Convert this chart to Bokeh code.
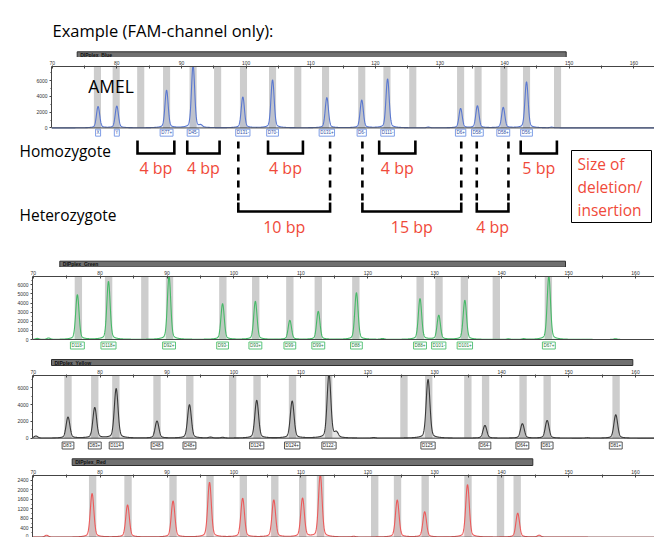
import numpy as np
from bokeh.plotting import figure
from bokeh.layouts import column
from bokeh.models import Range1d, FixedTicker, Span
from bokeh.core.properties import value
from bokeh.embed import file_html
from bokeh.resources import INLINE

# ---------------- data ----------------
bp_major = [70, 80, 90, 100, 110, 120, 130, 140, 150, 160]
bp_minor = [75, 85, 95, 105, 115, 125, 135, 145, 155]

blue_bins = [77.0, 79.9, 83.7, 87.7, 91.8, 95.6, 99.6, 104.1, 108.0, 112.3, 117.9, 121.8, 125.8, 133.2, 135.9, 139.9, 143.4, 148.2]
blue_peak_bp = [77.1, 80.0, 87.7, 91.8, 99.5, 104.1, 112.5, 117.9, 121.9, 133.2, 135.8, 139.8, 143.4]
blue_peak_rfu = [2700, 2750, 4750, 7900, 3900, 6075, 3825, 3500, 6200, 2450, 2790, 2575, 5825]
blue_markers = ["X", "Y", "D77+", "D45-", "D131-", "D70-", "D131+", "D6-", "D111-", "D6+", "D58-", "D58+", "D56-"]
blue_minor_bp = [93.0, 128.2, 147.3]
blue_minor_rfu = [250, 90, 80]
blue_yticks = [0, 2000, 4000, 6000]
blue_yminor = [1000, 3000, 5000, 7000]

green_bins = [76.75, 81.27, 86.68, 90.37, 98.34, 103.25, 108.35, 112.6, 118.21, 127.82, 130.64, 134.43, 139.2, 146.98]
green_peak_bp = [76.6, 81.25, 90.3, 98.3, 103.2, 108.35, 112.6, 118.3, 127.8, 130.6, 134.5, 147.05]
green_peak_rfu = [4900, 6360, 6950, 3910, 4170, 2080, 3070, 5120, 4460, 2630, 4280, 6950]
green_markers = ["D118-", "D118+", "D92+", "D93-", "D93+", "D99-", "D99+", "D88-", "D88+", "D101-", "D101+", "D67+"]
green_minor_bp = [70.6, 72.3, 122.2, 141.0, 143.3, 157.0]
green_minor_rfu = [110, 150, 90, 60, 70, 80]
green_yticks = [0, 1000, 2000, 3000, 4000, 5000, 6000]
green_yminor = [500, 1500, 2500, 3500, 4500, 5500, 6500]

yellow_bins = [75.2, 79.2, 82.35, 88.5, 93.4, 99.8, 103.45, 108.75, 114.15, 125.4, 129.1, 134.95, 137.6, 143.2, 146.8, 157.1]
yellow_peak_bp = [75.2, 79.2, 82.4, 88.5, 93.35, 103.4, 108.7, 114.2, 129.0, 137.5, 143.1, 146.8, 157.05]
yellow_peak_rfu = [2500, 3620, 5880, 2020, 3975, 4490, 4400, 7600, 6985, 1510, 1715, 2105, 2785]
yellow_markers = ["D83-", "D83+", "D114-", "D48-", "D48+", "D124-", "D124+", "D122-", "D125-", "D64-", "D64+", "D81-", "D81+"]
yellow_minor_bp = [70.4, 96.5, 98.3, 115.3, 120.9, 152.8]
yellow_minor_rfu = [250, 100, 80, 600, 60, 50]
yellow_yticks = [0, 2000, 4000, 6000]
yellow_yminor = [1000, 3000, 5000, 7000]

red_bins = [78.88, 84.17, 90.89, 96.42, 101.4, 106.1, 110.27, 112.93, 121.03, 124.44, 128.57, 134.97, 139.83, 142.32]
red_peak_bp = [78.8, 84.1, 90.9, 96.35, 101.3, 105.95, 110.25, 112.9, 124.4, 128.5, 134.9, 142.4]
red_peak_rfu = [1840, 1357, 1523, 2310, 1635, 1565, 1635, 2640, 1565, 1067, 2216, 1013]
red_minor_bp = [72.0, 117.9, 145.6]
red_minor_rfu = [80, 30, 80]
red_yticks = [0, 400, 800, 1200, 1600, 2000, 2400]
red_yminor = [200, 600, 1000, 1400, 1800, 2200]

homo_from = [83.2, 90.9, 103.4, 120.6, 142.5]
homo_to = [88.9, 95.9, 108.8, 126.2, 148.1]
homo_size = ["4 bp", "4 bp", "4 bp", "4 bp", "5 bp"]
het_from = [98.8, 118.0, 135.7]
het_to = [113.0, 133.3, 140.6]
het_size = ["10 bp", "15 bp", "4 bp"]

# ---------------- layout constants (screen px, page has no margin) ----------------
W = 654
BLUE_X70, BLUE_K = 51.7, (633.3 - 51.7) / 90
OTH_X70, OTH_K = 32.7, (635.0 - 32.7) / 90
RED = "#f04a3a"
BIG_FONT = value("Open Sans")
SMALL_FONT = "Liberation Sans"


def bx(sx):
    return 70 + (sx - BLUE_X70) / BLUE_K


def unalign(p, fw, fh):
    try:
        p.frame_align = False
    except Exception:
        p.frame_width = fw
        p.frame_height = fh


def deco_fig(top, bot, xr=None):
    p = figure(width=W, height=bot - top,
               x_range=xr if xr is not None else Range1d(0, W),
               y_range=Range1d(bot, top), x_axis_type=None, y_axis_type=None,
               output_backend="svg", toolbar_location=None, min_border=0)
    p.outline_line_color = None
    p.background_fill_color = "white"
    p.border_fill_color = "white"
    unalign(p, W, bot - top)
    return p


def bar_fig(top, bot, x0, x1, y0, y1, name):
    p = deco_fig(top, bot)
    p.quad(left=[x0], right=[x1], top=[y0], bottom=[y1],
           fill_color="#707070", line_color="#2e2e2e", line_width=1)
    p.text(x=[x0 + 3], y=[(y0 + y1) / 2], text=[name], text_font=value(SMALL_FONT),
           text_font_size="5px", text_font_style="bold", text_color="#111111",
           text_align="left", text_baseline="middle")
    return p


def make_panel(g, bins, pk_bp, pk_rfu, mn_bp, mn_rfu, yticks, yminor,
               color, markers, mk_line, mk_text, sigma, mk_off):
    h = g["fig_bot"] - g["fig_top"]
    T = g["frame_top"] - g["fig_top"]
    L = g["L"]
    k = g["k"]
    xs = 70 + (L - g["x70"]) / k
    xe = xs + (W - L) / k
    ye = (g["base"] - g["frame_top"]) * g["upp"]
    ys = (g["base"] - g["fig_bot"]) * g["upp"]
    p = figure(width=W, height=h, x_range=Range1d(xs, xe), y_range=Range1d(ys, ye),
               x_axis_location="above", output_backend="svg", toolbar_location=None,
               min_border_left=L, min_border_right=0, min_border_top=T, min_border_bottom=0)
    p.outline_line_color = None
    p.grid.visible = False
    p.background_fill_color = "white"
    p.border_fill_color = "white"
    unalign(p, W - L, h - T)

    ax = p.xaxis[0]
    ax.ticker = FixedTicker(ticks=bp_major, minor_ticks=bp_minor)
    ax.major_label_text_font_size = "5px"
    ax.major_label_text_font = SMALL_FONT
    ax.major_label_text_color = "#333333"
    ax.major_label_standoff = 1
    ax.major_tick_out = 1
    ax.major_tick_in = 2
    ax.minor_tick_out = 1
    ax.minor_tick_in = 2
    ax.axis_line_color = "#444444"
    ax.major_tick_line_color = "#444444"
    ax.minor_tick_line_color = "#444444"

    ay = p.yaxis[0]
    ay.ticker = FixedTicker(ticks=yticks, minor_ticks=yminor)
    ay.bounds = (0, ye)
    ay.major_label_text_font_size = "5px"
    ay.major_label_text_font = SMALL_FONT
    ay.major_label_text_color = "#333333"
    ay.major_label_standoff = 2
    ay.major_tick_out = 2
    ay.major_tick_in = 0
    ay.minor_tick_out = 1
    ay.minor_tick_in = 0
    ay.axis_line_color = "#444444"
    ay.major_tick_line_color = "#444444"
    ay.minor_tick_line_color = "#444444"

    b = np.array(bins)
    p.quad(left=b - 0.55, right=b + 0.55, bottom=0, top=ye,
           fill_color="#cdcdcd", line_color=None)

    xg = np.arange(xs, xe, 0.02)
    y = np.zeros_like(xg)
    for c, hh in zip(list(pk_bp) + list(mn_bp), list(pk_rfu) + list(mn_rfu)):
        d = xg - c
        y += hh * (0.88 * np.exp(-0.5 * (d / sigma) ** 2) + 0.12 / (1 + (d / (2.4 * sigma)) ** 2))
    p.varea(x=xg, y1=np.zeros_like(xg), y2=y, fill_color=color, fill_alpha=0.13)
    p.line(x=xg, y=y, line_color=color, line_width=1.1)

    p.add_layout(Span(location=0, dimension="width", line_color="#444444", line_width=1))

    if markers:
        ymk = -mk_off * g["upp"]
        p.text(x=pk_bp, y=[ymk] * len(pk_bp), text=markers, text_font=value(SMALL_FONT),
               text_font_size="4.5px", text_color=mk_text, text_align="center",
               text_baseline="middle", background_fill_color="white",
               border_line_color=mk_line, border_line_width=1, padding=1)
    return p


# ---------------- figures ----------------
fa = deco_fig(0, 47)
fa.text(x=[52], y=[30], text=["Example (FAM-channel only):"], text_font=BIG_FONT,
        text_font_size="16.5px", text_color="black", text_align="left", text_baseline="middle")

fbar_b = bar_fig(47, 57, 76.7, 565.7, 49.3, 55.3, "DIPplex_Blue")

g_blue = dict(fig_top=57, fig_bot=137, frame_top=65, base=127.3, upp=125.0, L=51, x70=BLUE_X70, k=BLUE_K)
fb = make_panel(g_blue, blue_bins, blue_peak_bp, blue_peak_rfu, blue_minor_bp, blue_minor_rfu,
                blue_yticks, blue_yminor, "#5a78d0", blue_markers, "#7f9ee6", "#2c4ea6", 0.24, 4.8)
fb.text(x=[bx(87.7)], y=[(127.3 - 84.7) * 125.0], text=["AMEL"], text_font=BIG_FONT,
        text_font_size="17.5px", text_color="black", text_align="left", text_baseline="middle")

# annotation figure (x in bp of the blue panel, y in screen px)
cx0 = 70 + (0 - BLUE_X70) / BLUE_K
fc = deco_fig(137, 256, xr=Range1d(cx0, cx0 + W / BLUE_K))
fc.text(x=[bx(19), bx(19)], y=[150, 214], text=["Homozygote", "Heterozygote"], text_font=BIG_FONT,
        text_font_size="15.5px", text_color="black", text_align="left", text_baseline="middle")
hx = [[a, a, b, b] for a, b in zip(homo_from, homo_to)]
hy = [[140, 153, 153, 140] for _ in homo_from]
fc.multi_line(xs=hx, ys=hy, line_color="black", line_width=2.6, line_join="miter")
fc.text(x=[(a + b) / 2 for a, b in zip(homo_from, homo_to)], y=[167] * len(homo_from), text=homo_size,
        text_font=BIG_FONT, text_font_size="16px", text_color=RED, text_align="center", text_baseline="middle")
dvx = [[a, a] for a in het_from + het_to]
dvy = [[141, 203] for _ in het_from + het_to]
fc.multi_line(xs=dvx, ys=dvy, line_color="black", line_width=2.6, line_dash="7 6")
ux = [[a, a, b, b] for a, b in zip(het_from, het_to)]
uy = [[202, 211, 211, 202] for _ in het_from]
fc.multi_line(xs=ux, ys=uy, line_color="black", line_width=2.6, line_join="miter")
fc.text(x=[(a + b) / 2 for a, b in zip(het_from, het_to)], y=[226] * len(het_from), text=het_size,
        text_font=BIG_FONT, text_font_size="16px", text_color=RED, text_align="center", text_baseline="middle")
fc.quad(left=[bx(571)], right=[bx(651)], top=[150], bottom=[222], fill_color=None,
        line_color="black", line_width=1)
fc.text(x=[bx(577)] * 3, y=[163, 186, 209], text=["Size of", "deletion/", "insertion"], text_font=BIG_FONT,
        text_font_size="15.5px", text_color=RED, text_align="left", text_baseline="middle")

fbar_g = bar_fig(256, 267, 59.3, 565.0, 259.7, 265.7, "DIPplex_Green")
g_green = dict(fig_top=267, fig_bot=354, frame_top=276, base=339.0, upp=109.65, L=32, x70=OTH_X70, k=OTH_K)
fg = make_panel(g_green, green_bins, green_peak_bp, green_peak_rfu, green_minor_bp, green_minor_rfu,
                green_yticks, green_yminor, "#47b968", green_markers, "#5cc47a", "#237a3c", 0.24, 6.0)

fbar_y = bar_fig(354, 366, 51.0, 632.3, 359.0, 365.0, "DIPplex_Yellow")
g_yel = dict(fig_top=366, fig_bot=453, frame_top=375, base=437.7, upp=119.0, L=32, x70=OTH_X70, k=OTH_K)
fy = make_panel(g_yel, yellow_bins, yellow_peak_bp, yellow_peak_rfu, yellow_minor_bp, yellow_minor_rfu,
                yellow_yticks, yellow_yminor, "#3a3a3a", yellow_markers, "#555555", "#222222", 0.27, 7.3)

fbar_r = bar_fig(453, 466, 71.7, 532.3, 458.3, 465.0, "DIPplex_Red")
g_red = dict(fig_top=466, fig_bot=537, frame_top=474, base=536.7, upp=41.6, L=32, x70=OTH_X70, k=OTH_K)
fr = make_panel(g_red, red_bins, red_peak_bp, red_peak_rfu, red_minor_bp, red_minor_rfu,
                red_yticks, red_yminor, "#ec5b5b", None, None, None, 0.26, 0)

layout = column(fa, fbar_b, fb, fc, fbar_g, fg, fbar_y, fy, fbar_r, fr, spacing=0)

with open("out.html", "w") as f:
    f.write(file_html(layout, INLINE))
